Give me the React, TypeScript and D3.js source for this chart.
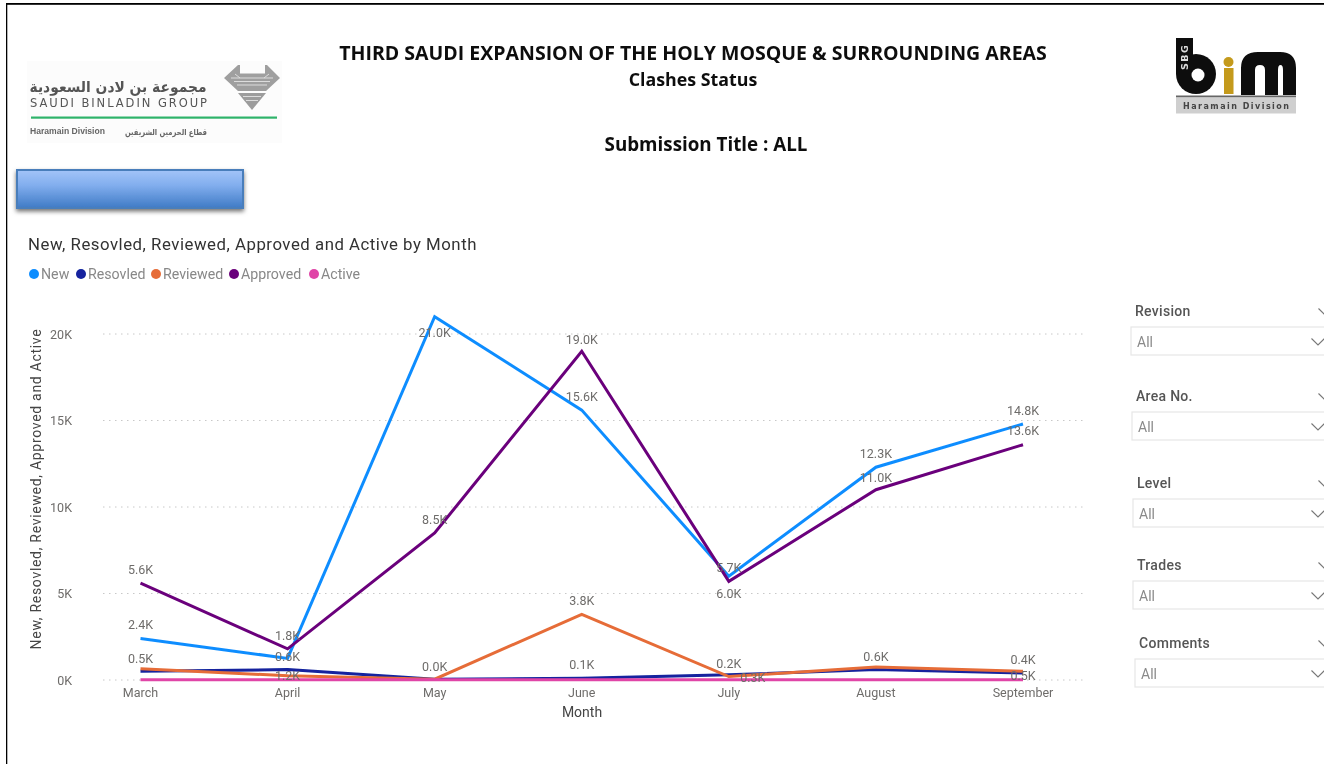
import React from "react";
import * as d3 from "d3";

const months = ["March", "April", "May", "June", "July", "August", "September"];
const newValues = [2.4, 1.25, 21.0, 15.6, 6.0, 12.3, 14.8];
const resolvedValues = [0.5, 0.6, 0.05, 0.1, 0.3, 0.6, 0.4];
const reviewedValues = [0.65, 0.25, 0.05, 3.8, 0.2, 0.75, 0.5];
const approvedValues = [5.6, 1.8, 8.5, 19.0, 5.7, 11.0, 13.6];
const activeValues = [0.02, 0.02, 0.02, 0.02, 0.02, 0.02, 0.02];

const newLabels = ["2.4K", "1.2K", "21.0K", "15.6K", "6.0K", "12.3K", "14.8K"];
const resolvedLabels = ["", "0.6K", "", "", "0.3K", "", "0.5K"];
const reviewedLabels = ["0.5K", "", "0.0K", "3.8K", "0.2K", "0.6K", "0.4K"];
const approvedLabels = ["5.6K", "1.8K", "8.5K", "19.0K", "5.7K", "11.0K", "13.6K"];
const extraLabels = ["", "", "", "0.1K", "", "", ""];

const yTicks = [0, 5, 10, 15, 20];
const legendNames = ["New", "Resovled", "Reviewed", "Approved", "Active"];
const slicerNames = ["Revision", "Area No.", "Level", "Trades", "Comments"];

const colors = ["#118DFF", "#12239E", "#E66C37", "#6B007B", "#E044A7"];
const seriesValues = [newValues, resolvedValues, reviewedValues, approvedValues, activeValues];

const x = d3.scalePoint<string>().domain(months).range([140.5, 1023]);
const y = d3.scaleLinear().domain([0, 20]).range([680, 334]);
const line = d3
  .line<number>()
  .x((_, i) => x(months[i]) as number)
  .y((v) => y(v));

const CHART_FONT = "Roboto, sans-serif";
const LABEL_COLOR = "#6e6c6a";

const labelSets = [
  { labels: newLabels, values: newValues, dy: [-9, 22, 20, -9, 22, -9, -9], dx: [0, 0, 0, 0, 0, 0, 0] },
  { labels: resolvedLabels, values: resolvedValues, dy: [-9, -9, -9, -9, 7, -9, 7], dx: [0, 0, 0, 0, 24, 0, 0] },
  { labels: reviewedLabels, values: reviewedValues, dy: [-6, -9, -8, -9, -9, -6, -7], dx: [0, 0, 0, 0, 0, 0, 0] },
  { labels: approvedLabels, values: approvedValues, dy: [-9, -9, -9, -7, -9, -8, -10], dx: [0, 0, 0, 0, 0, 0, 0] },
  { labels: extraLabels, values: resolvedValues, dy: [-9, -9, -9, -9, -9, -9, -9], dx: [0, 0, 0, 0, 0, 0, 0] },
];

const slicerLayout = [
  { tx: 1135, ty: 316, by: 327, bx: 1131 },
  { tx: 1136, ty: 401, by: 412, bx: 1132 },
  { tx: 1137, ty: 488, by: 499, bx: 1133 },
  { tx: 1137, ty: 570, by: 581, bx: 1133 },
  { tx: 1139, ty: 648, by: 659, bx: 1135 },
];
const legendX = [34, 81, 156, 234, 314];

function Chevron({ cx, cy, w = 6.5 }: { cx: number; cy: number; w?: number }) {
  return (
    <path
      d={`M${cx - w},${cy - 3.5}L${cx},${cy + 3}L${cx + w},${cy - 3.5}`}
      fill="none"
      stroke="#777"
      strokeWidth={1.1}
    />
  );
}

function SbgLogo() {
  return (
    <g>
      <rect x={27} y={61} width={255} height={82} fill="#fcfcfc" />
      <text x={118} y={92} textAnchor="middle" fontFamily="'DejaVu Sans'" fontWeight={700} fontSize={15} fill="#555" textLength={177} lengthAdjust="spacingAndGlyphs">
        مجموعة بن لادن السعودية
      </text>
      <text x={30} y={107} fontFamily="'DejaVu Sans'" fontSize={11.5} fill="#555" textLength={177} lengthAdjust="spacing">
        SAUDI BINLADIN GROUP
      </text>
      <rect x={31} y={116.5} width={246} height={2.2} fill="#2fb36a" />
      <text x={30} y={134} fontFamily="'Liberation Sans'" fontWeight={700} fontSize={8.5} fill="#666" textLength={75} lengthAdjust="spacingAndGlyphs">
        Haramain Division
      </text>
      <text x={166} y={135} textAnchor="middle" fontFamily="'DejaVu Sans'" fontWeight={700} fontSize={8.5} fill="#666" textLength={82} lengthAdjust="spacingAndGlyphs">
        قطاع الحرمين الشريفين
      </text>
      <path d="M224,78L238,65L240,65L240,73.5L265,73.5L265,65L267,65L280,78L266,91L238,91Z" fill="#9f9f9f" />
      <path d="M238,93L266,93L252,110Z" fill="#9c9c9c" />
      <path d="M231,78L273,78M234,81.5L270,81.5M237,85L267,85M235,74L240,78M269,74L264,78M243,96.5L261,96.5M246,100.5L258,100.5" stroke="#dcdcdc" strokeWidth={1} fill="none" />
    </g>
  );
}

function BimLogo() {
  return (
    <g>
      <rect x={1176} y={38} width={17} height={36} fill="#111" />
      <circle cx={1196} cy={74} r={20} fill="#111" />
      <circle cx={1198} cy={75} r={6.5} fill="#fff" />
      <text transform="translate(1188,70) rotate(-90)" fontFamily="'DejaVu Sans'" fontWeight={700} fontSize={9.5} letterSpacing={1.5} fill="#ddd">
        SBG
      </text>
      <rect x={1224} y={68} width={9.5} height={26} fill="#c49a1a" />
      <circle cx={1228.5} cy={62} r={5} fill="#c49a1a" />
      <path d="M1241,95V68Q1241,52 1258,52H1280Q1296,52 1296,68V95H1283V70Q1283,65 1280.5,65Q1278,65 1278,70V95H1265V70Q1265,65 1260,65Q1255,65 1255,70V95Z" fill="#111" />
      <rect x={1176} y={95.5} width={120} height={2} fill="#666" />
      <rect x={1176} y={97.5} width={120} height={16} fill="#cfcfcf" />
      <text x={1236} y={108.5} textAnchor="middle" fontFamily="'DejaVu Sans'" fontWeight={700} fontSize={8} fill="#444" textLength={106} lengthAdjust="spacing">
        Haramain Division
      </text>
    </g>
  );
}

export default function App() {
  return (
    <svg width={1324} height={764} style={{ position: "absolute", left: 0, top: 0, display: "block", background: "#fff" }}>
      <defs>
        <filter id="soft" x="0" y="0" width="100%" height="100%">
          <feGaussianBlur stdDeviation="0.55" />
        </filter>
        <linearGradient id="btn" x1="0" y1="0" x2="0" y2="1">
          <stop offset="0" stopColor="#a3c4f8" />
          <stop offset="0.4" stopColor="#82aeee" />
          <stop offset="1" stopColor="#3f7bc6" />
        </linearGradient>
        <filter id="shadow" x="-5%" y="-20%" width="110%" height="150%">
          <feDropShadow dx={0} dy={2.5} stdDeviation={2.2} floodColor="#000" floodOpacity={0.55} />
        </filter>
      </defs>
      <g filter="url(#soft)">
        <rect x={6} y={3.5} width={1330} height={780} fill="none" stroke="#000" strokeWidth={2.6} />

        <text x={693} y={60} textAnchor="middle" fontFamily="'Open Sans', sans-serif" fontWeight={700} fontSize={19.55} fill="#111">
          THIRD SAUDI EXPANSION OF THE HOLY MOSQUE &amp; SURROUNDING AREAS
        </text>
        <text x={693} y={86} textAnchor="middle" fontFamily="'Open Sans', sans-serif" fontWeight={700} fontSize={17.8} fill="#111">
          Clashes Status
        </text>
        <text x={706} y={151} textAnchor="middle" fontFamily="'Open Sans', sans-serif" fontWeight={700} fontSize={18.8} fill="#111">
          Submission Title : ALL
        </text>

        <SbgLogo />
        <BimLogo />

        <rect x={17} y={170} width={226} height={38} fill="url(#btn)" stroke="#4a7ebb" strokeWidth={2} filter="url(#shadow)" />

        <text x={28} y={250} fontFamily={CHART_FONT} fontSize={16.8} fill="#333" letterSpacing={0.52}>
          New, Resovled, Reviewed, Approved and Active by Month
        </text>

        {legendNames.map((name, i) => (
          <g key={name}>
            <circle cx={legendX[i]} cy={274} r={5} fill={colors[i]} />
            <text x={legendX[i] + 7} y={279} fontFamily={CHART_FONT} fontSize={14.2} fill="#888">
              {name}
            </text>
          </g>
        ))}

        {yTicks.map((t) => (
          <g key={t}>
            <line x1={103} x2={1083} y1={y(t)} y2={y(t)} stroke="#c8c8c8" strokeWidth={1} strokeDasharray="1.5 4.5" />
            <text x={72} y={y(t) + 4.5} textAnchor="end" fontFamily={CHART_FONT} fontSize={12.5} fill={LABEL_COLOR}>
              {t}K
            </text>
          </g>
        ))}

        <text transform="translate(41,489) rotate(-90)" textAnchor="middle" fontFamily={CHART_FONT} fontSize={14} fill="#444" letterSpacing={0.7}>
          New, Resovled, Reviewed, Approved and Active
        </text>

        {months.map((m) => (
          <text key={m} x={x(m)} y={697} textAnchor="middle" fontFamily={CHART_FONT} fontSize={12.5} fill={LABEL_COLOR}>
            {m}
          </text>
        ))}
        <text x={582} y={717} textAnchor="middle" fontFamily={CHART_FONT} fontSize={14} fill="#444">
          Month
        </text>

        {seriesValues.map((vals, i) => (
          <path key={legendNames[i]} d={line(vals) as string} fill="none" stroke={colors[i]} strokeWidth={3} strokeLinejoin="miter" />
        ))}

        {labelSets.map((set, si) =>
          set.labels.map((lab, i) =>
            lab ? (
              <text
                key={`${si}-${i}`}
                x={(x(months[i]) as number) + set.dx[i]}
                y={y(set.values[i]) + set.dy[i]}
                textAnchor="middle"
                fontFamily={CHART_FONT}
                fontSize={12.5}
                fill={LABEL_COLOR}
              >
                {lab}
              </text>
            ) : null,
          ),
        )}

        {slicerNames.map((name, i) => {
          const s = slicerLayout[i];
          return (
            <g key={name}>
              <text x={s.tx} y={s.ty} fontFamily={CHART_FONT} fontWeight={500} fontSize={14} fill="#555" letterSpacing={0.3}>
                {name}
              </text>
              <Chevron cx={1325} cy={s.ty - 4} />
              <rect x={s.bx} y={s.by} width={240} height={28} fill="#fff" stroke="#e6e6e6" strokeWidth={1.2} />
              <text x={s.bx + 6} y={s.by + 20} fontFamily={CHART_FONT} fontSize={14} fill="#8a8a8a">
                All
              </text>
              <Chevron cx={1318} cy={s.by + 15} />
            </g>
          );
        })}
      </g>
    </svg>
  );
}
